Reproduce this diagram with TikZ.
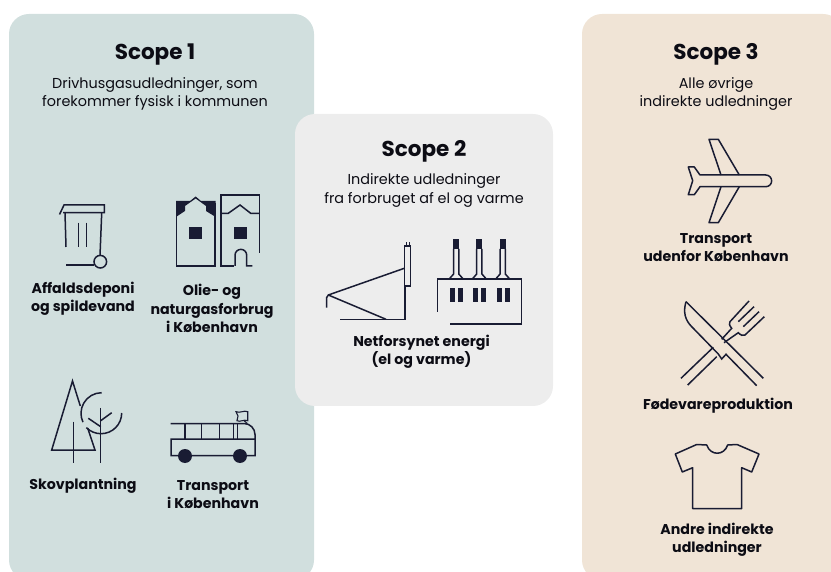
\documentclass[tikz,border=0pt]{standalone}
\usepackage{fontspec}
\setmainfont{Poppins}
\definecolor{inkc}{HTML}{191C33}
\definecolor{textc}{HTML}{0C0C14}
\definecolor{greenp}{HTML}{D1DFDE}
\definecolor{greyp}{HTML}{EDEDED}
\definecolor{sandp}{HTML}{F0E4D6}
\tikzset{
  panel/.style={rounded corners=20pt, draw=none},
  scopetitle/.style={font=\fontsize{21.5}{26}\selectfont\bfseries, text=textc, align=center},
  scopetext/.style={font=\fontsize{14.4}{18.5}\selectfont, text=textc, align=center},
  itemlabel/.style={font=\fontsize{14.2}{18.3}\selectfont\bfseries, text=textc, align=center},
  icon/.style={draw=inkc, line width=1.5pt, line join=miter},
  solidpart/.style={fill=inkc, draw=none}
}
\begin{document}
\begin{tikzpicture}[x=1pt,y=-1pt]
  \useasboundingbox (0,0) rectangle (831,572);
  % panels
  \begin{scope}
    \clip (0,0) rectangle (831,572);
    \fill[greenp, panel] (9,14) rectangle (314,580);
    \fill[sandp, panel] (582,14) rectangle (843,580);
    \fill[greyp, panel] (295,114) rectangle (553,406);
  \end{scope}
  % titles
  \node[scopetitle] (scopeone) at (155,54.5) {Scope 1};
  \node[scopetext] (textone) at (155,94) {Drivhusgasudledninger, som\\forekommer fysisk i kommunen};
  \node[scopetitle] (scopetwo) at (424,151.5) {Scope 2};
  \node[scopetext] (texttwo) at (424,190.5) {Indirekte udledninger\\fra forbruget af el og varme};
  \node[scopetitle] (scopethree) at (716,54.5) {Scope 3};
  \node[scopetext] (textthree) at (716,94) {Alle øvrige\\indirekte udledninger};
  % labels
  \node[itemlabel] (affald) at (83,299) {Affaldsdeponi\\og spildevand};
  \node[itemlabel] (olie) at (212,308.5) {Olie- og\\naturgasforbrug\\i København};
  \node[itemlabel] (skov) at (83,485.5) {Skovplantning};
  \node[itemlabel] (bus) at (213,494.5) {Transport\\i København};
  \node[itemlabel] (net) at (421.5,351.5) {Netforsynet energi\\(el og varme)};
  \node[itemlabel] (fly) at (716,247.5) {Transport\\udenfor København};
  \node[itemlabel] (mad) at (718,405.5) {Fødevareproduktion};
  \node[itemlabel] (andre) at (717,539.5) {Andre indirekte\\udledninger};
  % bin
  \draw[icon] (59.5,214.5) -- (64,205) -- (104.3,205) -- (104.3,212.7) -- (63,212.7);
  \draw[icon] (65,213) -- (66,247);
  \draw[icon] (101.7,213) -- (100,255.5);
  \draw[icon] (78.3,222.7) -- (78.3,246.7);
  \draw[icon] (86.7,222.7) -- (86.7,246.7);
  \draw[icon] (66,265) -- (94,265);
  \draw[icon] (100.3,261.7) circle (6.3pt);
  % houses
  \draw[icon] (176.7,203) -- (176.7,266) -- (215,266) -- (215,203);
  \fill[solidpart] (176,201) -- (190,201) -- (195.7,196.5) -- (201,201) -- (215.7,201) -- (215.7,217) -- (206,211) -- (206,206) -- (195.7,198.5) -- (185,206) -- (185,211) -- (176,217) -- cycle;
  \fill[solidpart] (189.3,226.7) rectangle (202.3,239);
  \draw[icon] (233.5,266) -- (221,266) -- (221,195) -- (259.3,195) -- (259.3,252.7);
  \draw[icon] (221,213.3) -- (228.3,213.3) -- (240,205) -- (250.7,213.3) -- (259.3,213.3);
  \fill[solidpart] (234.3,226.7) rectangle (246.7,239);
  \draw[icon] (235,266) -- (235,255.2) arc (180:0:5.85pt) -- (246.7,266) -- (252.3,266);
  % trees
  \draw[icon] (80.3,406) -- (72.5,381) -- (51.7,450) -- (95,450) -- (87.7,428);
  \draw[icon] (73.3,421.7) -- (73.3,462.7);
  \draw[icon] (100.7,408) -- (100.7,462.7);
  \draw[icon] (100.7,426.7) -- (88.3,418.3);
  \draw[icon] (100.7,420.7) -- (111.7,412.7);
  \draw[icon] (101.7,392.7) arc (90:205:20.7pt);
  \draw[icon] (121.7,413) arc (0:-135:20.7pt);
  % bus
  \draw[icon] (170.7,423.5) -- (244,423.5) arc (90:0:11pt) -- (255,455.7) -- (171,455.7) -- (171,439) -- (255,439);
  \foreach \xbar in {185,201.7,219.3,233.3,237.7}{
    \draw[icon] (\xbar,423.5) -- (\xbar,439);
  }
  \draw[icon, line width=1.1pt] (247.3,423.5) -- (244,420.7);
  \draw[icon, line width=1.1pt] (236,411.7) .. controls (240,413.5) and (244,410) .. (247.7,411.7) -- (247.7,420.7) .. controls (244,419) and (240,422.5) .. (237,420.7) -- (238,416) -- cycle;
  \fill[solidpart] (185,456) circle (7pt);
  \fill[solidpart] (240,456) circle (7pt);
  % antenna
  \draw[icon] (326.7,307.7) -- (326.7,297.5) -- (328.3,295) -- (404.3,268.3);
  \draw[icon] (328.3,295) -- (386,319.3);
  \draw[icon] (340,319.3) -- (405,319.3) -- (405,286.7);
  \draw[icon] (404.7,246) rectangle (410.7,286);
  \draw[icon, line width=0.9pt] (406,246) -- (406,242.5);
  \draw[icon, line width=0.9pt] (409,246) -- (409,242.5);
  % plant
  \draw[icon] (437.7,311.7) -- (437.7,279) -- (521.3,279) -- (521.3,324) -- (450,324);
  \foreach \xchim in {456.2,479.3,502.7}{
    \fill[solidpart] (\xchim-3,239.3) rectangle (\xchim+3,249.3);
    \draw[icon] (\xchim-2.6,249) -- (\xchim-2.6,274) -- (\xchim-7,279);
    \draw[icon] (\xchim+2.6,249) -- (\xchim+2.6,274) -- (\xchim+7,279);
    \fill[solidpart] (\xchim-6.2,287.7) rectangle (\xchim-1.2,301.7);
    \fill[solidpart] (\xchim+2,287.7) rectangle (\xchim+7,301.7);
  }
  % plane
  \draw[icon, line join=round] (700,175) -- (694.3,167) -- (688.3,167) -- (692.7,180.7) -- (688.3,194.7) -- (694.3,194.7) -- (700,186.7) -- (765.8,186.7) arc (-90:90:5.85pt) -- cycle;
  \draw[icon, line join=round] (721,175) -- (709,139.3) -- (718.3,139.3) -- (739.3,175);
  \draw[icon, line join=round] (721,186.7) -- (709,222.7) -- (718.3,222.7) -- (739.3,186.7);
  % cutlery
  \draw[icon] (686,301.7) -- (763.3,378.3);
  \draw[icon] (686,301.7) .. controls (683,312) and (685,320) .. (691.7,326.7) -- (718.3,354) -- (721.7,359) -- (726,354.3) -- (756.7,385.7);
  \draw[icon] (681,378.3) -- (713.3,347.3);
  \draw[icon] (721.7,339.3) -- (731.7,328.3) .. controls (729,325) and (729,323) .. (730,321.7) -- (749,301);
  \draw[icon] (687.7,385) -- (716.7,356.7);
  \draw[icon] (724,342.7) -- (738.3,332.7) .. controls (741,335.5) and (743,336) .. (745,335) -- (764.3,316.7);
  \draw[icon] (738.3,321.7) -- (754,306.7);
  \draw[icon] (743.3,326.7) -- (759,311.7);
  % shirt
  \draw[icon, line join=round] (706.7,445) -- (696.7,444.5) -- (675.3,454) -- (682.3,472) -- (692.7,467.7) -- (692.7,508.7) -- (741.7,508.7) -- (741.7,467.7) -- (751.7,472) -- (759,454) -- (737,444.5) -- (727.7,445) .. controls (724,456) and (710.5,456) .. (706.7,445) -- cycle;
\end{tikzpicture}
\end{document}
